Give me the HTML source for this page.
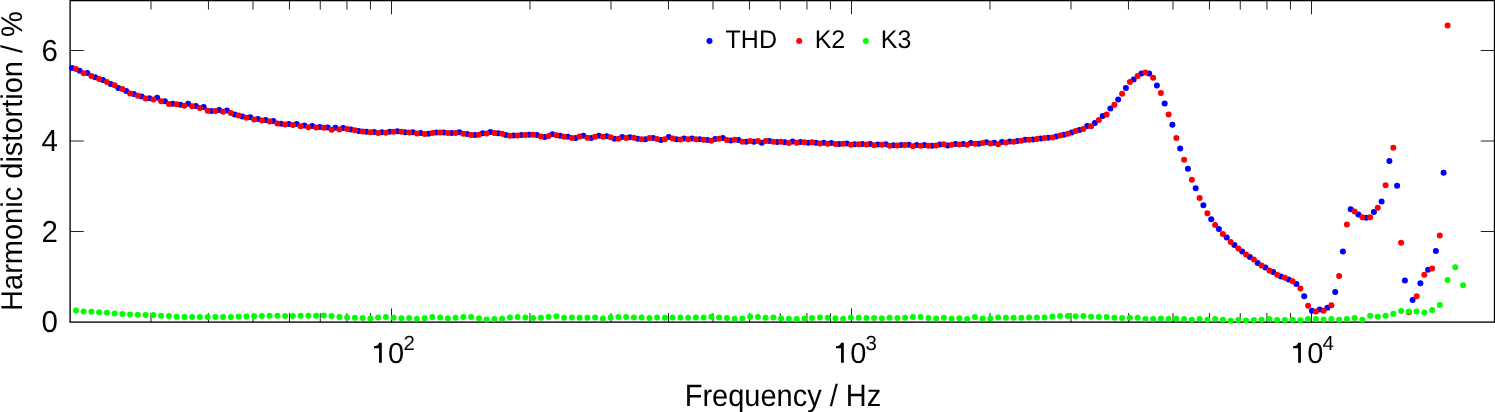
<!DOCTYPE html>
<html><head><meta charset="utf-8"><style>
html,body{margin:0;padding:0;background:#fff;width:1495px;height:412px;overflow:hidden}
svg{display:block;font-family:"Liberation Sans",sans-serif;text-rendering:geometricPrecision}
</style></head><body>
<svg width="1495" height="412" viewBox="0 0 1495 412">
<g stroke="#222" stroke-width="1" fill="none"><line x1="150.98" y1="322.1" x2="150.98" y2="313.10"/><line x1="150.98" y1="0.6" x2="150.98" y2="9.60"/><line x1="208.45" y1="322.1" x2="208.45" y2="313.10"/><line x1="208.45" y1="0.6" x2="208.45" y2="9.60"/><line x1="253.03" y1="322.1" x2="253.03" y2="313.10"/><line x1="253.03" y1="0.6" x2="253.03" y2="9.60"/><line x1="289.45" y1="322.1" x2="289.45" y2="313.10"/><line x1="289.45" y1="0.6" x2="289.45" y2="9.60"/><line x1="320.25" y1="322.1" x2="320.25" y2="313.10"/><line x1="320.25" y1="0.6" x2="320.25" y2="9.60"/><line x1="346.92" y1="322.1" x2="346.92" y2="313.10"/><line x1="346.92" y1="0.6" x2="346.92" y2="9.60"/><line x1="370.45" y1="322.1" x2="370.45" y2="313.10"/><line x1="370.45" y1="0.6" x2="370.45" y2="9.60"/><line x1="391.50" y1="322.1" x2="391.50" y2="308.40"/><line x1="391.50" y1="0.6" x2="391.50" y2="14.30"/><line x1="529.97" y1="322.1" x2="529.97" y2="313.10"/><line x1="529.97" y1="0.6" x2="529.97" y2="9.60"/><line x1="610.98" y1="322.1" x2="610.98" y2="313.10"/><line x1="610.98" y1="0.6" x2="610.98" y2="9.60"/><line x1="668.45" y1="322.1" x2="668.45" y2="313.10"/><line x1="668.45" y1="0.6" x2="668.45" y2="9.60"/><line x1="713.03" y1="322.1" x2="713.03" y2="313.10"/><line x1="713.03" y1="0.6" x2="713.03" y2="9.60"/><line x1="749.45" y1="322.1" x2="749.45" y2="313.10"/><line x1="749.45" y1="0.6" x2="749.45" y2="9.60"/><line x1="780.25" y1="322.1" x2="780.25" y2="313.10"/><line x1="780.25" y1="0.6" x2="780.25" y2="9.60"/><line x1="806.92" y1="322.1" x2="806.92" y2="313.10"/><line x1="806.92" y1="0.6" x2="806.92" y2="9.60"/><line x1="830.45" y1="322.1" x2="830.45" y2="313.10"/><line x1="830.45" y1="0.6" x2="830.45" y2="9.60"/><line x1="851.50" y1="322.1" x2="851.50" y2="308.40"/><line x1="851.50" y1="0.6" x2="851.50" y2="14.30"/><line x1="989.97" y1="322.1" x2="989.97" y2="313.10"/><line x1="989.97" y1="0.6" x2="989.97" y2="9.60"/><line x1="1070.98" y1="322.1" x2="1070.98" y2="313.10"/><line x1="1070.98" y1="0.6" x2="1070.98" y2="9.60"/><line x1="1128.45" y1="322.1" x2="1128.45" y2="313.10"/><line x1="1128.45" y1="0.6" x2="1128.45" y2="9.60"/><line x1="1173.03" y1="322.1" x2="1173.03" y2="313.10"/><line x1="1173.03" y1="0.6" x2="1173.03" y2="9.60"/><line x1="1209.45" y1="322.1" x2="1209.45" y2="313.10"/><line x1="1209.45" y1="0.6" x2="1209.45" y2="9.60"/><line x1="1240.25" y1="322.1" x2="1240.25" y2="313.10"/><line x1="1240.25" y1="0.6" x2="1240.25" y2="9.60"/><line x1="1266.92" y1="322.1" x2="1266.92" y2="313.10"/><line x1="1266.92" y1="0.6" x2="1266.92" y2="9.60"/><line x1="1290.45" y1="322.1" x2="1290.45" y2="313.10"/><line x1="1290.45" y1="0.6" x2="1290.45" y2="9.60"/><line x1="1311.50" y1="322.1" x2="1311.50" y2="308.40"/><line x1="1311.50" y1="0.6" x2="1311.50" y2="14.30"/><line x1="70.1" y1="231.50" x2="83.80" y2="231.50"/><line x1="1494.5" y1="231.50" x2="1480.80" y2="231.50"/><line x1="70.1" y1="141.00" x2="83.80" y2="141.00"/><line x1="1494.5" y1="141.00" x2="1480.80" y2="141.00"/><line x1="70.1" y1="50.50" x2="83.80" y2="50.50"/><line x1="1494.5" y1="50.50" x2="1480.80" y2="50.50"/></g><rect x="70.1" y="0.6" width="1424.40" height="321.50" fill="none" stroke="#000" stroke-width="1.35"/><g fill="#0000ff"><circle cx="72.0" cy="68.0" r="3.0"/><circle cx="79.7" cy="70.7" r="3.0"/><circle cx="87.4" cy="73.1" r="3.0"/><circle cx="95.2" cy="77.3" r="3.0"/><circle cx="102.9" cy="79.9" r="3.0"/><circle cx="110.7" cy="84.0" r="3.0"/><circle cx="118.4" cy="88.0" r="3.0"/><circle cx="126.2" cy="91.1" r="3.0"/><circle cx="133.9" cy="94.0" r="3.0"/><circle cx="141.7" cy="96.4" r="3.0"/><circle cx="149.4" cy="98.2" r="3.0"/><circle cx="157.2" cy="97.7" r="3.0"/><circle cx="164.9" cy="101.3" r="3.0"/><circle cx="172.7" cy="103.8" r="3.0"/><circle cx="180.4" cy="104.7" r="3.0"/><circle cx="188.2" cy="103.8" r="3.0"/><circle cx="195.9" cy="106.1" r="3.0"/><circle cx="203.7" cy="107.1" r="3.0"/><circle cx="211.4" cy="111.0" r="3.0"/><circle cx="219.2" cy="110.1" r="3.0"/><circle cx="226.9" cy="110.5" r="3.0"/><circle cx="234.7" cy="114.5" r="3.0"/><circle cx="242.4" cy="116.4" r="3.0"/><circle cx="250.2" cy="117.2" r="3.0"/><circle cx="257.9" cy="119.0" r="3.0"/><circle cx="265.7" cy="120.1" r="3.0"/><circle cx="273.4" cy="121.0" r="3.0"/><circle cx="281.2" cy="123.7" r="3.0"/><circle cx="288.9" cy="123.9" r="3.0"/><circle cx="296.7" cy="124.1" r="3.0"/><circle cx="304.4" cy="125.5" r="3.0"/><circle cx="312.2" cy="126.1" r="3.0"/><circle cx="319.9" cy="127.1" r="3.0"/><circle cx="327.7" cy="127.5" r="3.0"/><circle cx="335.4" cy="127.7" r="3.0"/><circle cx="343.2" cy="128.0" r="3.0"/><circle cx="350.9" cy="129.5" r="3.0"/><circle cx="358.7" cy="130.9" r="3.0"/><circle cx="366.4" cy="131.7" r="3.0"/><circle cx="374.2" cy="132.0" r="3.0"/><circle cx="381.9" cy="132.3" r="3.0"/><circle cx="389.7" cy="131.7" r="3.0"/><circle cx="397.4" cy="131.3" r="3.0"/><circle cx="405.2" cy="132.3" r="3.0"/><circle cx="412.9" cy="132.3" r="3.0"/><circle cx="420.7" cy="133.1" r="3.0"/><circle cx="428.4" cy="133.7" r="3.0"/><circle cx="436.2" cy="132.5" r="3.0"/><circle cx="443.9" cy="132.5" r="3.0"/><circle cx="451.7" cy="132.9" r="3.0"/><circle cx="459.4" cy="132.2" r="3.0"/><circle cx="467.2" cy="134.1" r="3.0"/><circle cx="474.9" cy="135.1" r="3.0"/><circle cx="482.7" cy="133.3" r="3.0"/><circle cx="490.4" cy="132.1" r="3.0"/><circle cx="498.2" cy="133.3" r="3.0"/><circle cx="505.9" cy="135.0" r="3.0"/><circle cx="513.7" cy="135.5" r="3.0"/><circle cx="521.4" cy="135.0" r="3.0"/><circle cx="529.2" cy="134.8" r="3.0"/><circle cx="536.9" cy="135.0" r="3.0"/><circle cx="544.7" cy="137.0" r="3.0"/><circle cx="552.4" cy="134.2" r="3.0"/><circle cx="560.2" cy="135.7" r="3.0"/><circle cx="567.9" cy="136.8" r="3.0"/><circle cx="575.7" cy="138.0" r="3.0"/><circle cx="583.4" cy="135.7" r="3.0"/><circle cx="591.2" cy="137.9" r="3.0"/><circle cx="598.9" cy="135.7" r="3.0"/><circle cx="606.7" cy="136.3" r="3.0"/><circle cx="614.4" cy="138.7" r="3.0"/><circle cx="622.2" cy="137.0" r="3.0"/><circle cx="629.9" cy="137.2" r="3.0"/><circle cx="637.7" cy="138.8" r="3.0"/><circle cx="645.4" cy="139.3" r="3.0"/><circle cx="653.2" cy="138.1" r="3.0"/><circle cx="660.9" cy="139.9" r="3.0"/><circle cx="668.7" cy="136.9" r="3.0"/><circle cx="676.4" cy="139.3" r="3.0"/><circle cx="684.2" cy="138.5" r="3.0"/><circle cx="691.9" cy="138.5" r="3.0"/><circle cx="699.7" cy="139.2" r="3.0"/><circle cx="707.4" cy="139.9" r="3.0"/><circle cx="715.2" cy="139.0" r="3.0"/><circle cx="722.9" cy="138.1" r="3.0"/><circle cx="730.7" cy="140.4" r="3.0"/><circle cx="738.4" cy="140.1" r="3.0"/><circle cx="746.2" cy="141.7" r="3.0"/><circle cx="753.9" cy="141.7" r="3.0"/><circle cx="761.7" cy="142.8" r="3.0"/><circle cx="769.4" cy="141.0" r="3.0"/><circle cx="777.2" cy="142.1" r="3.0"/><circle cx="784.9" cy="142.3" r="3.0"/><circle cx="792.7" cy="141.5" r="3.0"/><circle cx="800.4" cy="142.1" r="3.0"/><circle cx="808.2" cy="142.8" r="3.0"/><circle cx="815.9" cy="142.8" r="3.0"/><circle cx="823.7" cy="142.8" r="3.0"/><circle cx="831.4" cy="143.0" r="3.0"/><circle cx="839.2" cy="143.9" r="3.0"/><circle cx="846.9" cy="143.5" r="3.0"/><circle cx="854.7" cy="144.3" r="3.0"/><circle cx="862.4" cy="144.0" r="3.0"/><circle cx="870.2" cy="143.9" r="3.0"/><circle cx="877.9" cy="144.5" r="3.0"/><circle cx="885.7" cy="144.3" r="3.0"/><circle cx="893.4" cy="145.2" r="3.0"/><circle cx="901.2" cy="145.0" r="3.0"/><circle cx="908.9" cy="144.8" r="3.0"/><circle cx="916.7" cy="145.0" r="3.0"/><circle cx="924.4" cy="145.0" r="3.0"/><circle cx="932.2" cy="145.7" r="3.0"/><circle cx="939.9" cy="144.6" r="3.0"/><circle cx="947.7" cy="145.5" r="3.0"/><circle cx="955.4" cy="143.9" r="3.0"/><circle cx="963.2" cy="143.9" r="3.0"/><circle cx="970.9" cy="143.0" r="3.0"/><circle cx="978.7" cy="143.7" r="3.0"/><circle cx="986.4" cy="142.3" r="3.0"/><circle cx="994.2" cy="142.8" r="3.0"/><circle cx="1001.9" cy="142.1" r="3.0"/><circle cx="1009.7" cy="141.5" r="3.0"/><circle cx="1017.4" cy="141.0" r="3.0"/><circle cx="1025.2" cy="139.8" r="3.0"/><circle cx="1032.9" cy="139.4" r="3.0"/><circle cx="1040.7" cy="138.6" r="3.0"/><circle cx="1048.4" cy="137.8" r="3.0"/><circle cx="1056.2" cy="136.5" r="3.0"/><circle cx="1063.9" cy="134.7" r="3.0"/><circle cx="1071.7" cy="132.4" r="3.0"/><circle cx="1079.4" cy="130.0" r="3.0"/><circle cx="1087.2" cy="126.0" r="3.0"/><circle cx="1094.9" cy="122.9" r="3.0"/><circle cx="1102.7" cy="116.1" r="3.0"/><circle cx="1110.4" cy="108.4" r="3.0"/><circle cx="1118.2" cy="99.4" r="3.0"/><circle cx="1125.9" cy="88.0" r="3.0"/><circle cx="1133.7" cy="79.5" r="3.0"/><circle cx="1141.4" cy="73.6" r="3.0"/><circle cx="1149.2" cy="73.6" r="3.0"/><circle cx="1156.9" cy="85.5" r="3.0"/><circle cx="1164.7" cy="103.5" r="3.0"/><circle cx="1172.4" cy="124.7" r="3.0"/><circle cx="1180.2" cy="148.5" r="3.0"/><circle cx="1187.9" cy="168.7" r="3.0"/><circle cx="1195.7" cy="188.2" r="3.0"/><circle cx="1203.4" cy="205.3" r="3.0"/><circle cx="1211.2" cy="219.2" r="3.0"/><circle cx="1218.9" cy="229.1" r="3.0"/><circle cx="1226.7" cy="237.6" r="3.0"/><circle cx="1234.4" cy="244.9" r="3.0"/><circle cx="1242.2" cy="251.5" r="3.0"/><circle cx="1249.9" cy="257.0" r="3.0"/><circle cx="1257.7" cy="263.1" r="3.0"/><circle cx="1265.4" cy="267.5" r="3.0"/><circle cx="1273.2" cy="272.1" r="3.0"/><circle cx="1280.9" cy="276.5" r="3.0"/><circle cx="1288.7" cy="279.6" r="3.0"/><circle cx="1296.4" cy="283.9" r="3.0"/><circle cx="1304.2" cy="296.2" r="3.0"/><circle cx="1311.9" cy="310.7" r="3.0"/><circle cx="1319.7" cy="309.5" r="3.0"/><circle cx="1327.4" cy="307.8" r="3.0"/><circle cx="1335.2" cy="292.0" r="3.0"/><circle cx="1342.9" cy="251.4" r="3.0"/><circle cx="1350.7" cy="209.2" r="3.0"/><circle cx="1358.4" cy="214.6" r="3.0"/><circle cx="1366.1" cy="217.7" r="3.0"/><circle cx="1373.9" cy="212.1" r="3.0"/><circle cx="1381.6" cy="201.4" r="3.0"/><circle cx="1389.4" cy="161.1" r="3.0"/><circle cx="1397.1" cy="185.7" r="3.0"/><circle cx="1404.9" cy="280.5" r="3.0"/><circle cx="1412.6" cy="299.9" r="3.0"/><circle cx="1420.4" cy="283.2" r="3.0"/><circle cx="1428.1" cy="269.7" r="3.0"/><circle cx="1435.9" cy="250.9" r="3.0"/><circle cx="1443.6" cy="172.8" r="3.0"/></g><g fill="#ff0000"><circle cx="75.9" cy="69.0" r="3.0"/><circle cx="83.6" cy="73.3" r="3.0"/><circle cx="91.4" cy="76.0" r="3.0"/><circle cx="99.1" cy="78.9" r="3.0"/><circle cx="106.9" cy="82.1" r="3.0"/><circle cx="114.6" cy="85.2" r="3.0"/><circle cx="122.4" cy="89.1" r="3.0"/><circle cx="130.1" cy="93.6" r="3.0"/><circle cx="137.9" cy="95.7" r="3.0"/><circle cx="145.6" cy="98.4" r="3.0"/><circle cx="153.4" cy="99.5" r="3.0"/><circle cx="161.1" cy="101.2" r="3.0"/><circle cx="168.9" cy="104.1" r="3.0"/><circle cx="176.6" cy="104.3" r="3.0"/><circle cx="184.4" cy="105.8" r="3.0"/><circle cx="192.1" cy="106.3" r="3.0"/><circle cx="199.9" cy="108.1" r="3.0"/><circle cx="207.6" cy="110.7" r="3.0"/><circle cx="215.4" cy="111.1" r="3.0"/><circle cx="223.1" cy="111.8" r="3.0"/><circle cx="230.9" cy="113.0" r="3.0"/><circle cx="238.6" cy="115.4" r="3.0"/><circle cx="246.4" cy="117.7" r="3.0"/><circle cx="254.1" cy="119.6" r="3.0"/><circle cx="261.9" cy="120.5" r="3.0"/><circle cx="269.6" cy="121.4" r="3.0"/><circle cx="277.4" cy="123.5" r="3.0"/><circle cx="285.1" cy="124.5" r="3.0"/><circle cx="292.9" cy="124.9" r="3.0"/><circle cx="300.6" cy="126.3" r="3.0"/><circle cx="308.4" cy="127.2" r="3.0"/><circle cx="316.1" cy="127.5" r="3.0"/><circle cx="323.9" cy="127.7" r="3.0"/><circle cx="331.6" cy="129.8" r="3.0"/><circle cx="339.4" cy="129.4" r="3.0"/><circle cx="347.1" cy="129.0" r="3.0"/><circle cx="354.9" cy="130.3" r="3.0"/><circle cx="362.6" cy="131.4" r="3.0"/><circle cx="370.4" cy="132.3" r="3.0"/><circle cx="378.1" cy="133.0" r="3.0"/><circle cx="385.9" cy="132.7" r="3.0"/><circle cx="393.6" cy="131.8" r="3.0"/><circle cx="401.4" cy="131.8" r="3.0"/><circle cx="409.1" cy="132.5" r="3.0"/><circle cx="416.9" cy="133.4" r="3.0"/><circle cx="424.6" cy="134.1" r="3.0"/><circle cx="432.4" cy="133.1" r="3.0"/><circle cx="440.1" cy="132.5" r="3.0"/><circle cx="447.9" cy="133.0" r="3.0"/><circle cx="455.6" cy="133.0" r="3.0"/><circle cx="463.4" cy="133.7" r="3.0"/><circle cx="471.1" cy="135.0" r="3.0"/><circle cx="478.9" cy="134.7" r="3.0"/><circle cx="486.6" cy="133.4" r="3.0"/><circle cx="494.4" cy="133.0" r="3.0"/><circle cx="502.1" cy="133.8" r="3.0"/><circle cx="509.9" cy="135.7" r="3.0"/><circle cx="517.6" cy="135.4" r="3.0"/><circle cx="525.4" cy="135.1" r="3.0"/><circle cx="533.1" cy="134.8" r="3.0"/><circle cx="540.9" cy="136.4" r="3.0"/><circle cx="548.6" cy="136.1" r="3.0"/><circle cx="556.4" cy="135.3" r="3.0"/><circle cx="564.1" cy="136.8" r="3.0"/><circle cx="571.9" cy="138.0" r="3.0"/><circle cx="579.6" cy="136.4" r="3.0"/><circle cx="587.4" cy="137.7" r="3.0"/><circle cx="595.1" cy="136.8" r="3.0"/><circle cx="602.9" cy="136.8" r="3.0"/><circle cx="610.6" cy="137.2" r="3.0"/><circle cx="618.4" cy="138.7" r="3.0"/><circle cx="626.1" cy="138.0" r="3.0"/><circle cx="633.9" cy="137.7" r="3.0"/><circle cx="641.6" cy="139.3" r="3.0"/><circle cx="649.4" cy="138.0" r="3.0"/><circle cx="657.1" cy="139.1" r="3.0"/><circle cx="664.9" cy="139.3" r="3.0"/><circle cx="672.6" cy="138.4" r="3.0"/><circle cx="680.4" cy="139.6" r="3.0"/><circle cx="688.1" cy="139.3" r="3.0"/><circle cx="695.9" cy="139.3" r="3.0"/><circle cx="703.6" cy="139.7" r="3.0"/><circle cx="711.4" cy="140.8" r="3.0"/><circle cx="719.1" cy="138.7" r="3.0"/><circle cx="726.9" cy="140.1" r="3.0"/><circle cx="734.6" cy="139.7" r="3.0"/><circle cx="742.4" cy="141.8" r="3.0"/><circle cx="750.1" cy="141.0" r="3.0"/><circle cx="757.9" cy="141.1" r="3.0"/><circle cx="765.6" cy="141.1" r="3.0"/><circle cx="773.4" cy="141.8" r="3.0"/><circle cx="781.1" cy="141.8" r="3.0"/><circle cx="788.9" cy="143.1" r="3.0"/><circle cx="796.6" cy="142.7" r="3.0"/><circle cx="804.4" cy="142.3" r="3.0"/><circle cx="812.1" cy="142.3" r="3.0"/><circle cx="819.9" cy="143.4" r="3.0"/><circle cx="827.6" cy="143.7" r="3.0"/><circle cx="835.4" cy="144.1" r="3.0"/><circle cx="843.1" cy="143.7" r="3.0"/><circle cx="850.9" cy="144.7" r="3.0"/><circle cx="858.6" cy="144.3" r="3.0"/><circle cx="866.4" cy="144.5" r="3.0"/><circle cx="874.1" cy="145.2" r="3.0"/><circle cx="881.9" cy="144.7" r="3.0"/><circle cx="889.6" cy="145.7" r="3.0"/><circle cx="897.4" cy="145.4" r="3.0"/><circle cx="905.1" cy="145.1" r="3.0"/><circle cx="912.9" cy="146.3" r="3.0"/><circle cx="920.6" cy="145.8" r="3.0"/><circle cx="928.4" cy="145.7" r="3.0"/><circle cx="936.1" cy="145.4" r="3.0"/><circle cx="943.9" cy="144.3" r="3.0"/><circle cx="951.6" cy="144.7" r="3.0"/><circle cx="959.4" cy="144.5" r="3.0"/><circle cx="967.1" cy="144.7" r="3.0"/><circle cx="974.9" cy="143.7" r="3.0"/><circle cx="982.6" cy="143.1" r="3.0"/><circle cx="990.4" cy="143.4" r="3.0"/><circle cx="998.1" cy="144.3" r="3.0"/><circle cx="1005.9" cy="142.5" r="3.0"/><circle cx="1013.6" cy="141.8" r="3.0"/><circle cx="1021.4" cy="140.7" r="3.0"/><circle cx="1029.1" cy="139.7" r="3.0"/><circle cx="1036.9" cy="139.1" r="3.0"/><circle cx="1044.6" cy="138.1" r="3.0"/><circle cx="1052.4" cy="137.4" r="3.0"/><circle cx="1060.1" cy="135.6" r="3.0"/><circle cx="1067.9" cy="133.8" r="3.0"/><circle cx="1075.6" cy="131.0" r="3.0"/><circle cx="1083.4" cy="128.9" r="3.0"/><circle cx="1091.1" cy="126.2" r="3.0"/><circle cx="1098.9" cy="120.0" r="3.0"/><circle cx="1106.6" cy="114.4" r="3.0"/><circle cx="1114.4" cy="104.7" r="3.0"/><circle cx="1122.1" cy="93.7" r="3.0"/><circle cx="1129.9" cy="82.1" r="3.0"/><circle cx="1137.6" cy="76.1" r="3.0"/><circle cx="1145.4" cy="72.4" r="3.0"/><circle cx="1153.1" cy="77.8" r="3.0"/><circle cx="1160.9" cy="93.1" r="3.0"/><circle cx="1168.6" cy="114.5" r="3.0"/><circle cx="1176.4" cy="138.0" r="3.0"/><circle cx="1184.1" cy="159.7" r="3.0"/><circle cx="1191.9" cy="179.7" r="3.0"/><circle cx="1199.6" cy="198.1" r="3.0"/><circle cx="1207.4" cy="213.3" r="3.0"/><circle cx="1215.1" cy="225.0" r="3.0"/><circle cx="1222.9" cy="234.0" r="3.0"/><circle cx="1230.6" cy="242.0" r="3.0"/><circle cx="1238.4" cy="248.5" r="3.0"/><circle cx="1246.1" cy="254.6" r="3.0"/><circle cx="1253.9" cy="259.5" r="3.0"/><circle cx="1261.6" cy="265.5" r="3.0"/><circle cx="1269.4" cy="270.4" r="3.0"/><circle cx="1277.1" cy="274.8" r="3.0"/><circle cx="1284.9" cy="277.7" r="3.0"/><circle cx="1292.6" cy="281.2" r="3.0"/><circle cx="1300.4" cy="288.6" r="3.0"/><circle cx="1308.1" cy="305.7" r="3.0"/><circle cx="1315.9" cy="311.5" r="3.0"/><circle cx="1323.6" cy="310.7" r="3.0"/><circle cx="1331.4" cy="305.2" r="3.0"/><circle cx="1339.1" cy="276.0" r="3.0"/><circle cx="1346.9" cy="224.5" r="3.0"/><circle cx="1354.6" cy="211.6" r="3.0"/><circle cx="1362.4" cy="217.2" r="3.0"/><circle cx="1370.1" cy="217.2" r="3.0"/><circle cx="1377.8" cy="207.7" r="3.0"/><circle cx="1385.6" cy="185.2" r="3.0"/><circle cx="1393.3" cy="147.8" r="3.0"/><circle cx="1401.1" cy="242.8" r="3.0"/><circle cx="1408.8" cy="312.3" r="3.0"/><circle cx="1416.6" cy="296.3" r="3.0"/><circle cx="1424.3" cy="274.8" r="3.0"/><circle cx="1432.1" cy="268.4" r="3.0"/><circle cx="1439.8" cy="235.6" r="3.0"/><circle cx="1447.6" cy="25.5" r="3.0"/></g><g fill="#00ff00"><circle cx="75.9" cy="310.4" r="3.0"/><circle cx="83.6" cy="311.4" r="3.0"/><circle cx="91.4" cy="311.8" r="3.0"/><circle cx="99.1" cy="312.3" r="3.0"/><circle cx="106.9" cy="312.8" r="3.0"/><circle cx="114.6" cy="313.4" r="3.0"/><circle cx="122.4" cy="313.9" r="3.0"/><circle cx="130.1" cy="314.4" r="3.0"/><circle cx="137.9" cy="314.7" r="3.0"/><circle cx="145.6" cy="315.0" r="3.0"/><circle cx="153.4" cy="315.1" r="3.0"/><circle cx="161.1" cy="315.7" r="3.0"/><circle cx="168.9" cy="316.1" r="3.0"/><circle cx="176.6" cy="316.7" r="3.0"/><circle cx="184.4" cy="317.0" r="3.0"/><circle cx="192.1" cy="317.1" r="3.0"/><circle cx="199.9" cy="317.1" r="3.0"/><circle cx="207.6" cy="317.1" r="3.0"/><circle cx="215.4" cy="317.1" r="3.0"/><circle cx="223.1" cy="317.0" r="3.0"/><circle cx="230.9" cy="316.9" r="3.0"/><circle cx="238.6" cy="316.6" r="3.0"/><circle cx="246.4" cy="316.6" r="3.0"/><circle cx="254.1" cy="316.3" r="3.0"/><circle cx="261.9" cy="316.1" r="3.0"/><circle cx="269.6" cy="315.8" r="3.0"/><circle cx="277.4" cy="315.8" r="3.0"/><circle cx="285.1" cy="316.1" r="3.0"/><circle cx="292.9" cy="316.1" r="3.0"/><circle cx="300.6" cy="315.8" r="3.0"/><circle cx="308.4" cy="315.7" r="3.0"/><circle cx="316.1" cy="315.7" r="3.0"/><circle cx="323.9" cy="315.5" r="3.0"/><circle cx="331.6" cy="316.1" r="3.0"/><circle cx="339.4" cy="317.1" r="3.0"/><circle cx="347.1" cy="317.4" r="3.0"/><circle cx="354.9" cy="317.7" r="3.0"/><circle cx="362.6" cy="318.1" r="3.0"/><circle cx="370.4" cy="318.5" r="3.0"/><circle cx="378.1" cy="317.4" r="3.0"/><circle cx="385.9" cy="317.1" r="3.0"/><circle cx="393.6" cy="317.8" r="3.0"/><circle cx="401.4" cy="318.3" r="3.0"/><circle cx="409.1" cy="318.1" r="3.0"/><circle cx="416.9" cy="318.7" r="3.0"/><circle cx="424.6" cy="318.3" r="3.0"/><circle cx="432.4" cy="317.1" r="3.0"/><circle cx="440.1" cy="317.4" r="3.0"/><circle cx="447.9" cy="318.3" r="3.0"/><circle cx="455.6" cy="317.8" r="3.0"/><circle cx="463.4" cy="317.0" r="3.0"/><circle cx="471.1" cy="317.1" r="3.0"/><circle cx="478.9" cy="318.3" r="3.0"/><circle cx="486.6" cy="319.4" r="3.0"/><circle cx="494.4" cy="319.1" r="3.0"/><circle cx="502.1" cy="318.7" r="3.0"/><circle cx="509.9" cy="317.4" r="3.0"/><circle cx="517.6" cy="317.1" r="3.0"/><circle cx="525.4" cy="317.4" r="3.0"/><circle cx="533.1" cy="318.1" r="3.0"/><circle cx="540.9" cy="317.7" r="3.0"/><circle cx="548.6" cy="317.1" r="3.0"/><circle cx="556.4" cy="316.3" r="3.0"/><circle cx="564.1" cy="317.8" r="3.0"/><circle cx="571.9" cy="317.4" r="3.0"/><circle cx="579.6" cy="317.7" r="3.0"/><circle cx="587.4" cy="317.8" r="3.0"/><circle cx="595.1" cy="317.4" r="3.0"/><circle cx="602.9" cy="318.5" r="3.0"/><circle cx="610.6" cy="317.4" r="3.0"/><circle cx="618.4" cy="317.1" r="3.0"/><circle cx="626.1" cy="317.1" r="3.0"/><circle cx="633.9" cy="317.4" r="3.0"/><circle cx="641.6" cy="317.4" r="3.0"/><circle cx="649.4" cy="318.1" r="3.0"/><circle cx="657.1" cy="317.4" r="3.0"/><circle cx="664.9" cy="317.8" r="3.0"/><circle cx="672.6" cy="317.4" r="3.0"/><circle cx="680.4" cy="317.4" r="3.0"/><circle cx="688.1" cy="317.8" r="3.0"/><circle cx="695.9" cy="317.4" r="3.0"/><circle cx="703.6" cy="317.4" r="3.0"/><circle cx="711.4" cy="316.7" r="3.0"/><circle cx="719.1" cy="317.4" r="3.0"/><circle cx="726.9" cy="318.1" r="3.0"/><circle cx="734.6" cy="318.7" r="3.0"/><circle cx="742.4" cy="318.5" r="3.0"/><circle cx="750.1" cy="316.7" r="3.0"/><circle cx="757.9" cy="317.0" r="3.0"/><circle cx="765.6" cy="317.7" r="3.0"/><circle cx="773.4" cy="317.4" r="3.0"/><circle cx="781.1" cy="318.5" r="3.0"/><circle cx="788.9" cy="318.7" r="3.0"/><circle cx="796.6" cy="319.0" r="3.0"/><circle cx="804.4" cy="318.5" r="3.0"/><circle cx="812.1" cy="318.1" r="3.0"/><circle cx="819.9" cy="317.4" r="3.0"/><circle cx="827.6" cy="317.8" r="3.0"/><circle cx="835.4" cy="318.3" r="3.0"/><circle cx="843.1" cy="318.7" r="3.0"/><circle cx="850.9" cy="317.4" r="3.0"/><circle cx="858.6" cy="317.8" r="3.0"/><circle cx="866.4" cy="318.1" r="3.0"/><circle cx="874.1" cy="318.1" r="3.0"/><circle cx="881.9" cy="318.3" r="3.0"/><circle cx="889.6" cy="317.8" r="3.0"/><circle cx="897.4" cy="318.1" r="3.0"/><circle cx="905.1" cy="317.7" r="3.0"/><circle cx="912.9" cy="317.0" r="3.0"/><circle cx="920.6" cy="317.1" r="3.0"/><circle cx="928.4" cy="318.1" r="3.0"/><circle cx="936.1" cy="318.5" r="3.0"/><circle cx="943.9" cy="317.8" r="3.0"/><circle cx="951.6" cy="318.7" r="3.0"/><circle cx="959.4" cy="318.3" r="3.0"/><circle cx="967.1" cy="319.1" r="3.0"/><circle cx="974.9" cy="317.1" r="3.0"/><circle cx="982.6" cy="318.5" r="3.0"/><circle cx="990.4" cy="318.5" r="3.0"/><circle cx="998.1" cy="317.4" r="3.0"/><circle cx="1005.9" cy="317.8" r="3.0"/><circle cx="1013.6" cy="317.8" r="3.0"/><circle cx="1021.4" cy="317.7" r="3.0"/><circle cx="1029.1" cy="317.4" r="3.0"/><circle cx="1036.9" cy="317.4" r="3.0"/><circle cx="1044.6" cy="317.4" r="3.0"/><circle cx="1052.4" cy="316.5" r="3.0"/><circle cx="1060.1" cy="316.1" r="3.0"/><circle cx="1067.9" cy="316.1" r="3.0"/><circle cx="1075.6" cy="316.3" r="3.0"/><circle cx="1083.4" cy="316.1" r="3.0"/><circle cx="1091.1" cy="316.7" r="3.0"/><circle cx="1098.9" cy="317.0" r="3.0"/><circle cx="1106.6" cy="317.0" r="3.0"/><circle cx="1114.4" cy="317.7" r="3.0"/><circle cx="1122.1" cy="318.1" r="3.0"/><circle cx="1129.9" cy="317.8" r="3.0"/><circle cx="1137.6" cy="317.8" r="3.0"/><circle cx="1145.4" cy="319.0" r="3.0"/><circle cx="1153.1" cy="319.0" r="3.0"/><circle cx="1160.9" cy="318.5" r="3.0"/><circle cx="1168.6" cy="319.0" r="3.0"/><circle cx="1176.4" cy="318.7" r="3.0"/><circle cx="1184.1" cy="319.1" r="3.0"/><circle cx="1191.9" cy="319.7" r="3.0"/><circle cx="1199.6" cy="319.1" r="3.0"/><circle cx="1207.4" cy="319.8" r="3.0"/><circle cx="1215.1" cy="319.1" r="3.0"/><circle cx="1222.9" cy="319.8" r="3.0"/><circle cx="1230.6" cy="320.7" r="3.0"/><circle cx="1238.4" cy="320.1" r="3.0"/><circle cx="1246.1" cy="320.5" r="3.0"/><circle cx="1253.9" cy="320.1" r="3.0"/><circle cx="1261.6" cy="319.7" r="3.0"/><circle cx="1269.4" cy="319.0" r="3.0"/><circle cx="1277.1" cy="320.1" r="3.0"/><circle cx="1284.9" cy="320.1" r="3.0"/><circle cx="1292.6" cy="319.8" r="3.0"/><circle cx="1300.4" cy="320.3" r="3.0"/><circle cx="1308.1" cy="319.1" r="3.0"/><circle cx="1315.9" cy="319.1" r="3.0"/><circle cx="1323.6" cy="319.4" r="3.0"/><circle cx="1331.4" cy="319.1" r="3.0"/><circle cx="1339.1" cy="319.8" r="3.0"/><circle cx="1346.9" cy="319.1" r="3.0"/><circle cx="1354.6" cy="318.1" r="3.0"/><circle cx="1362.4" cy="319.8" r="3.0"/><circle cx="1370.1" cy="315.8" r="3.0"/><circle cx="1377.8" cy="316.7" r="3.0"/><circle cx="1385.6" cy="315.7" r="3.0"/><circle cx="1393.3" cy="313.8" r="3.0"/><circle cx="1401.1" cy="311.1" r="3.0"/><circle cx="1408.8" cy="311.4" r="3.0"/><circle cx="1416.6" cy="311.4" r="3.0"/><circle cx="1424.3" cy="312.5" r="3.0"/><circle cx="1432.1" cy="310.0" r="3.0"/><circle cx="1439.8" cy="305.1" r="3.0"/><circle cx="1447.6" cy="280.1" r="3.0"/><circle cx="1455.3" cy="267.3" r="3.0"/><circle cx="1463.1" cy="285.2" r="3.0"/></g><g opacity="0.999"><circle cx="709.5" cy="41.0" r="3" fill="#0000ff"/><circle cx="799.2" cy="41.0" r="3" fill="#ff0000"/><circle cx="865.8" cy="41.0" r="3" fill="#00ff00"/><text transform="translate(725.60,48.20) scale(1,1.02)" font-size="25" text-anchor="start">THD</text><text transform="translate(814.70,48.20) scale(1,1.02)" font-size="25" text-anchor="start">K2</text><text transform="translate(880.80,48.20) scale(1,1.02)" font-size="25" text-anchor="start">K3</text><text transform="translate(58.00,332.20) scale(1,1.03)" font-size="29.5" text-anchor="end">0</text><text transform="translate(58.00,241.70) scale(1,1.03)" font-size="29.5" text-anchor="end">2</text><text transform="translate(58.00,151.20) scale(1,1.03)" font-size="29.5" text-anchor="end">4</text><text transform="translate(58.00,60.70) scale(1,1.03)" font-size="29.5" text-anchor="end">6</text><path d="M381.80,342.70L381.80,362.70L379.05,362.70L379.05,348.30L374.00,348.30L374.00,346.20C376.80,346.20 378.60,345.00 379.00,342.70Z"/><text transform="translate(388.05,363.00) scale(1,1.0)" font-size="29" text-anchor="start">0</text><text transform="translate(403.40,350.40) scale(1,1.0)" font-size="20.5" text-anchor="start">2</text><path d="M843.80,342.70L843.80,362.70L841.05,362.70L841.05,348.30L836.00,348.30L836.00,346.20C838.80,346.20 840.60,345.00 841.00,342.70Z"/><text transform="translate(850.20,363.00) scale(1,1.0)" font-size="29" text-anchor="start">0</text><text transform="translate(865.60,350.40) scale(1,1.0)" font-size="20.5" text-anchor="start">3</text><path d="M1300.90,342.70L1300.90,362.70L1298.15,362.70L1298.15,348.30L1293.10,348.30L1293.10,346.20C1295.90,346.20 1297.70,345.00 1298.10,342.70Z"/><text transform="translate(1307.20,363.00) scale(1,1.0)" font-size="29" text-anchor="start">0</text><text transform="translate(1322.60,350.40) scale(1,1.0)" font-size="20.5" text-anchor="start">4</text><text transform="translate(783.00,405.50) scale(1,1.06)" font-size="29" text-anchor="middle">Frequency / Hz</text><text transform="translate(21.65,161) rotate(-90) scale(1,1.03)" font-size="29" text-anchor="middle">Harmonic distortion / %</text></g>
</svg></body></html>
